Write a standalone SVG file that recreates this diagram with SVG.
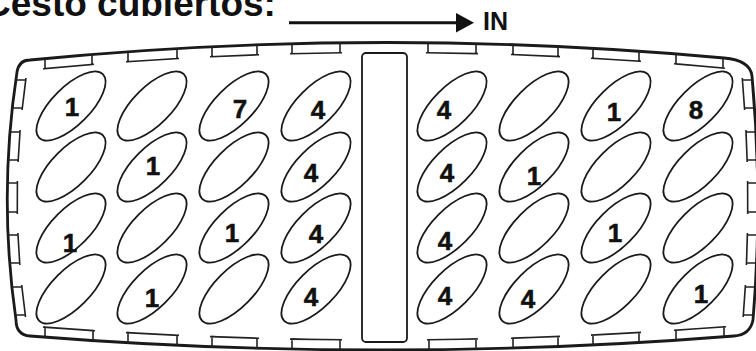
<svg xmlns="http://www.w3.org/2000/svg" width="756" height="351" viewBox="0 0 756 351">
<style>
.out{fill:none;stroke:#1a1a1a;stroke-width:2.8;stroke-linejoin:round}
.tab{fill:none;stroke:#222;stroke-width:1.6;stroke-linejoin:miter}
.slot{fill:none;stroke:#1a1a1a;stroke-width:1.8}
.num{font-family:"Liberation Sans",Arial,sans-serif;font-weight:bold;font-size:26px;fill:#111;stroke:#111;stroke-width:0.5;text-anchor:middle}
.title{font-family:"Liberation Sans",Arial,sans-serif;font-weight:bold;font-size:37px;fill:#111}
.lbl{font-family:"Liberation Sans",Arial,sans-serif;font-weight:bold;font-size:25px;fill:#111}
</style>
<defs>
<ellipse id="e" cx="0" cy="0" rx="45" ry="19" transform="rotate(-45)" class="slot"/>
</defs>
<rect width="756" height="351" fill="#fff"/>
<text class="title" x="-16" y="16">Cesto cubiertos:</text>
<g id="arrow">
<line x1="289" y1="22.7" x2="460" y2="22.7" stroke="#111" stroke-width="3"/>
<polygon points="456,13 474,22.7 456,32.5" fill="#111"/>
</g>
<text class="lbl" x="483" y="30">IN</text>
<g id="basket">
<path class="out" d="M30,60 Q376,26 724,58 Q750,60 752,76 Q763,198 753,320 Q750,335 734,336 Q382,364 30,336 Q16,335 16,320 Q-2,196 17,72 Q19,60 30,60 Z"/>
<g id="top-tabs" class="tab">
<path d="M45,58.6 V68.6 L92,64.5 V54.5 M43,68.8 L94,64.3"/>
<path d="M128,51.7 V61.7 L177,58.6 V48.6 M126,61.8 L179,58.5"/>
<path d="M212,46.7 V56.7 L257,54.8 V44.8 M210,56.8 L259,54.7"/>
<path d="M292,43.7 V53.7 L340,52.8 V42.8 M290,53.7 L342,52.8"/>
<path d="M428,42.7 V52.7 L476,53.6 V43.6 M426,52.7 L478,53.6"/>
<path d="M513,44.6 V54.6 L558,56.5 V46.5 M511,54.5 L560,56.6"/>
<path d="M593,48.3 V58.3 L639,61.2 V51.2 M591,58.2 L641,61.3"/>
<path d="M676,53.9 V63.9 L723,68 V58 M674,63.7 L725,68.2"/>
</g>
<g id="bottom-tabs" class="tab">
<path d="M45,337.2 V327.2 L93,330.6 V340.6 M43,327.1 L95,330.7"/>
<path d="M128,342.7 V332.7 L177,335.3 V345.3 M126,332.6 L179,335.4"/>
<path d="M212,346.7 V336.7 L257,338.2 V348.2 M210,336.6 L259,338.3"/>
<path d="M292,349.1 V339.1 L340,339.8 V349.8 M290,339.1 L342,339.8"/>
<path d="M429,349.8 V339.8 L476,339 V349 M427,339.8 L478,339"/>
<path d="M513,348.1 V338.1 L558,336.5 V346.5 M511,338.2 L560,336.4"/>
<path d="M593,345 V335 L639,332.5 V342.5 M591,335.1 L641,332.4"/>
<path d="M676,340.2 V330.2 L724,326.8 V336.8 M674,330.3 L726,326.7"/>
</g>
<g id="left-tabs" class="tab">
<path d="M15.8,80 H25.8 L22.3,108 H12.3 M25.9,78 L22.1,110"/>
<path d="M10,132 H20 L18.2,160 H8.2 M20.1,130 L18.1,162"/>
<path d="M7.4,183 H17.4 L17.3,212 H7.3 M17.4,181 L17.3,214"/>
<path d="M8,235 H18 L19.7,263 H9.7 M17.9,233 L19.8,265"/>
<path d="M11.9,287 H21.9 L25.3,315 H15.3 M21.7,285 L25.5,317"/>
</g>
<g id="right-tabs" class="tab">
<path d="M752.4,80 H742.4 L744.5,108 H754.5 M742.3,78 L744.6,110"/>
<path d="M756,132 H746 L747.1,160 H757.1 M746,130 L747.2,162"/>
<path d="M757.6,183 H747.6 L747.7,212 H757.7 M747.6,181 L747.7,214"/>
<path d="M757.4,235 H747.4 L746.5,263 H756.5 M747.4,233 L746.4,265"/>
<path d="M755.3,287 H745.3 L743.3,315 H753.3 M745.4,285 L743.2,317"/>
</g>
<rect id="divider" x="362" y="53" width="45" height="289" rx="4" class="slot"/>
</g>
<g id="slots">
<use href="#e" x="71" y="106"/><use href="#e" x="152" y="106"/><use href="#e" x="234" y="106"/><use href="#e" x="316" y="106"/>
<use href="#e" x="452" y="106"/><use href="#e" x="534" y="106"/><use href="#e" x="616" y="106"/><use href="#e" x="698" y="106"/>
<use href="#e" x="71" y="167"/><use href="#e" x="152" y="167"/><use href="#e" x="234" y="167"/><use href="#e" x="316" y="167"/>
<use href="#e" x="452" y="167"/><use href="#e" x="534" y="167"/><use href="#e" x="616" y="167"/><use href="#e" x="698" y="167"/>
<use href="#e" x="71" y="228"/><use href="#e" x="152" y="228"/><use href="#e" x="234" y="228"/><use href="#e" x="316" y="228"/>
<use href="#e" x="452" y="228"/><use href="#e" x="534" y="228"/><use href="#e" x="616" y="228"/><use href="#e" x="698" y="228"/>
<use href="#e" x="71" y="289"/><use href="#e" x="152" y="289"/><use href="#e" x="234" y="289"/><use href="#e" x="316" y="289"/>
<use href="#e" x="452" y="289"/><use href="#e" x="534" y="289"/><use href="#e" x="616" y="289"/><use href="#e" x="698" y="289"/>
</g>
<g id="numbers" class="num">
<text x="72" y="116">1</text><text x="240" y="118">7</text><text x="318" y="119">4</text>
<text x="444" y="119">4</text><text x="614" y="121">1</text><text x="696" y="119">8</text>
<text x="153" y="175">1</text><text x="311" y="182">4</text><text x="447" y="182">4</text><text x="534" y="185">1</text>
<text x="70" y="252">1</text><text x="232" y="242">1</text><text x="316" y="243">4</text><text x="445" y="250">4</text><text x="615" y="242">1</text>
<text x="152" y="307">1</text><text x="311" y="306">4</text><text x="445" y="305">4</text><text x="528" y="308">4</text><text x="701" y="303">1</text>
</g>
</svg>
